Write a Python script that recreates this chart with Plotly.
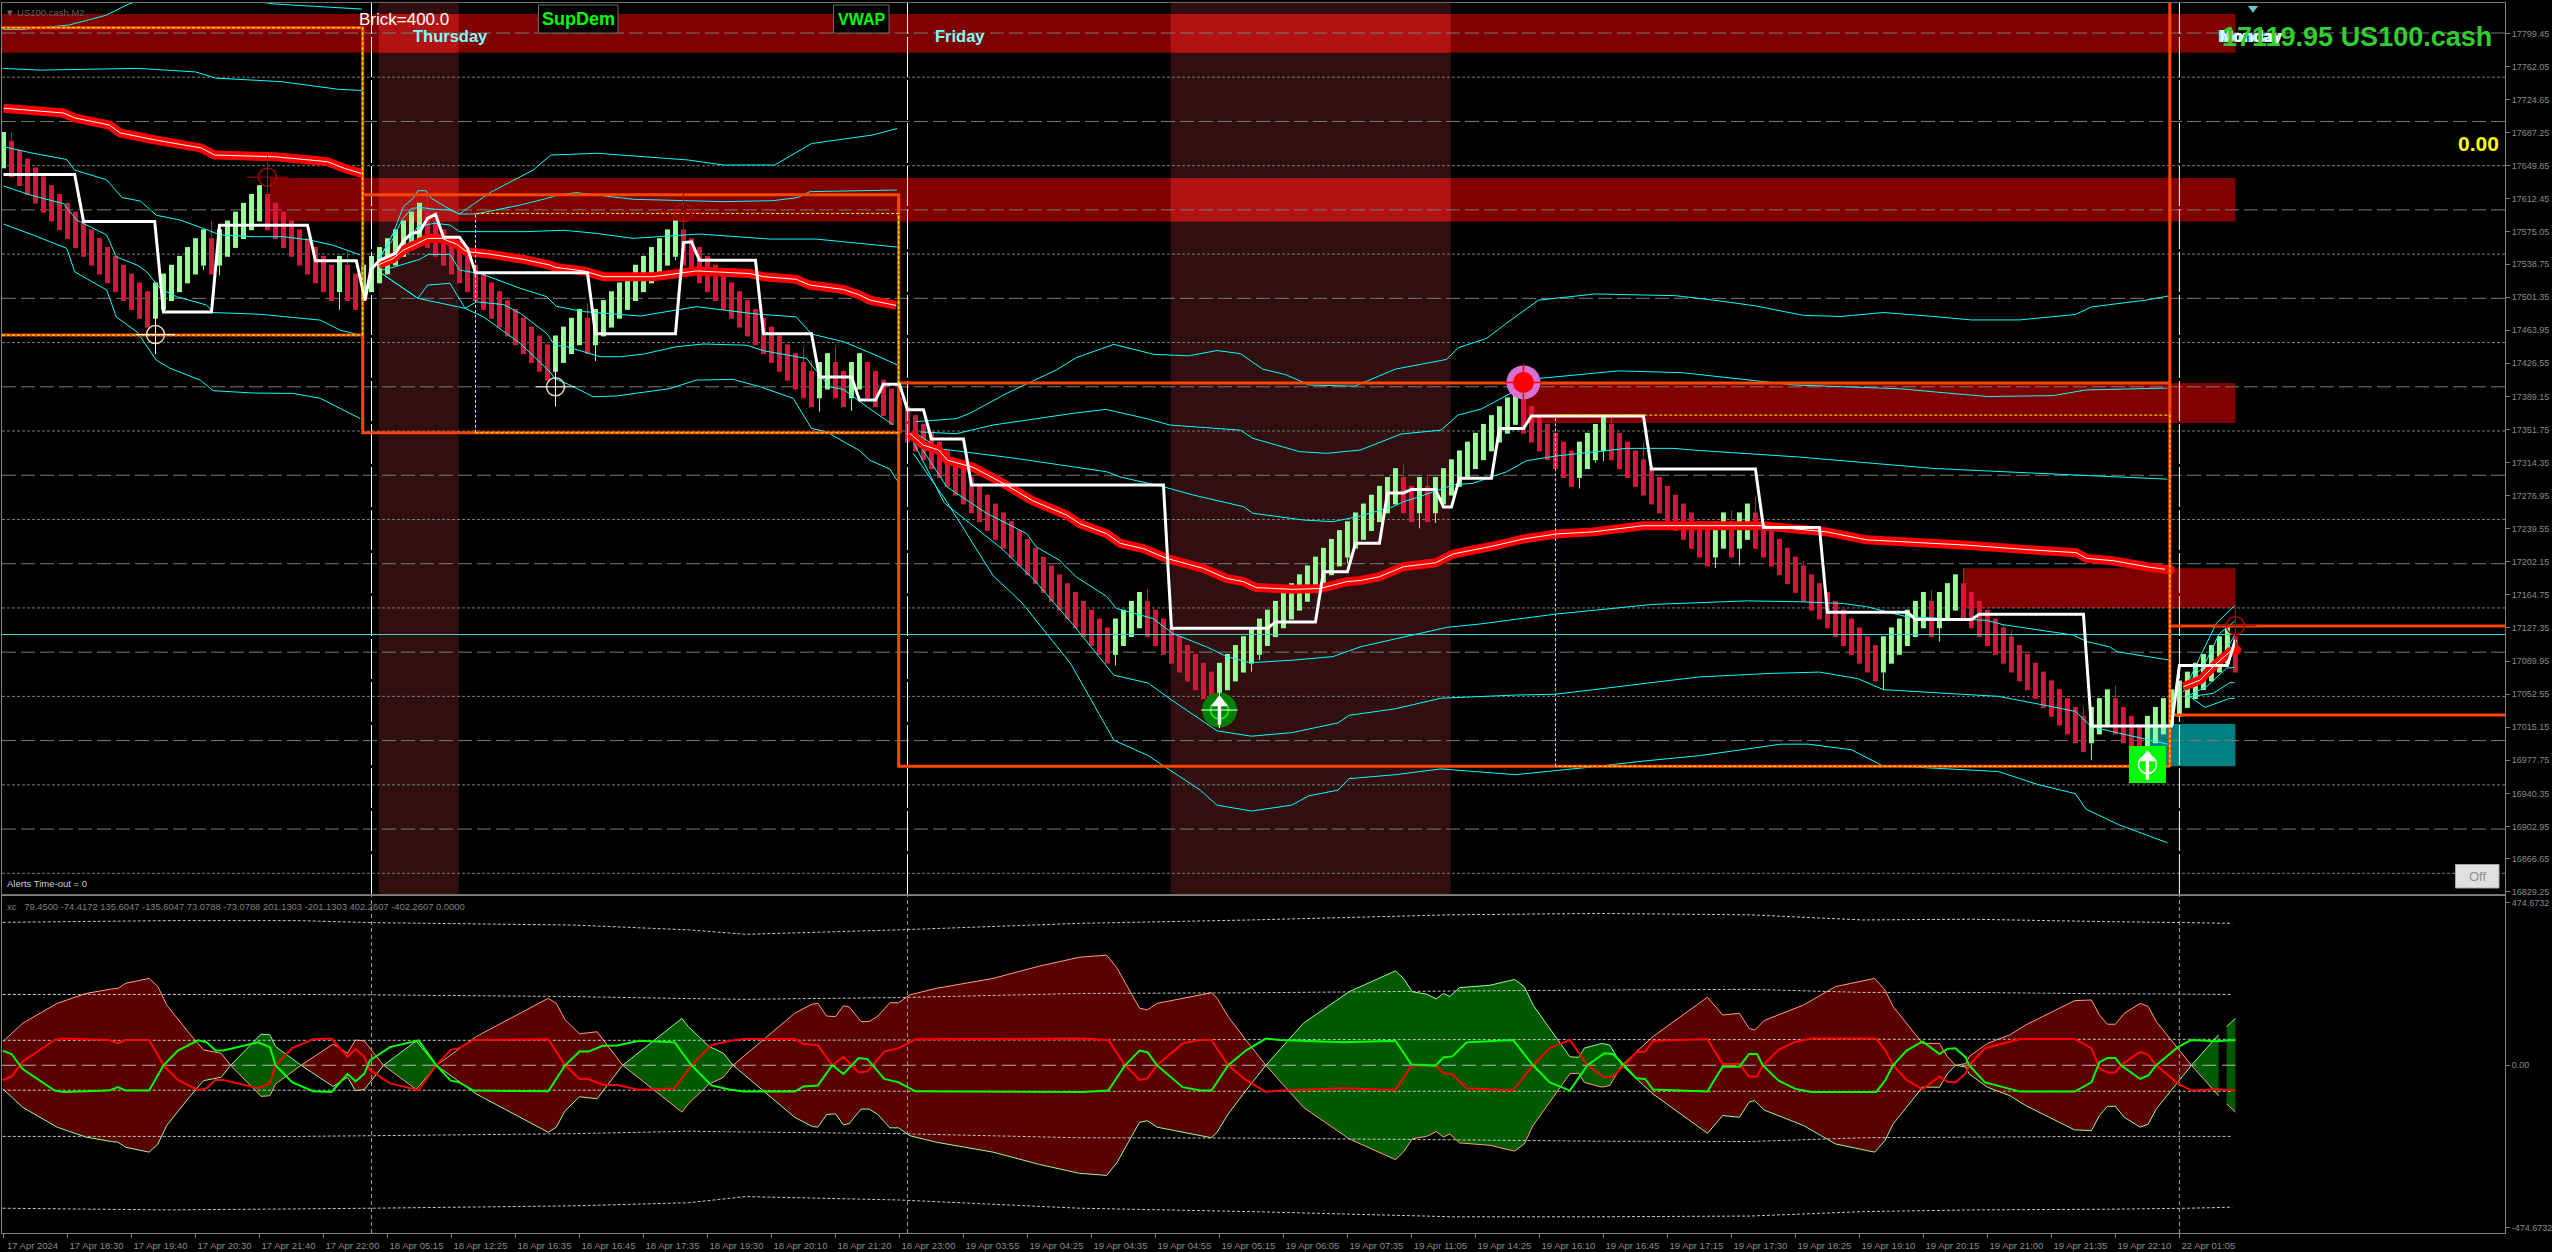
import plotly.graph_objects as go

W, H = 2552, 1252
FONT = "Liberation Sans, Arial"

# ---- price candles (brick chart) ----
bar_top = [
17688,17678,17668,17658,17648,17638,17628,17618,17608,17598,
17588,17578,17568,17558,17548,17538,17528,17518,17508,17518,
17528,17538,17548,17558,17568,17578,17568,17578,17588,17598,
17608,17618,17628,17618,17608,17598,17588,17578,17568,17558,
17548,17538,17548,17538,17528,17538,17548,17558,17568,17578,
17588,17598,17608,17598,17588,17578,17568,17558,17548,17538,
17528,17518,17508,17498,17488,17478,17468,17458,17448,17458,
17468,17478,17488,17478,17488,17498,17508,17518,17528,17538,
17548,17558,17568,17578,17588,17578,17568,17558,17548,17538,
17528,17518,17508,17498,17488,17478,17468,17458,17448,17438,
17428,17418,17428,17438,17428,17418,17428,17438,17428,17418,
17408,17398,17388,17378,17368,17358,17348,17338,17328,17318,
17308,17298,17288,17278,17268,17258,17248,17238,17228,17218,
17208,17198,17188,17178,17168,17158,17148,17138,17128,17138,
17148,17158,17168,17158,17148,17138,17128,17118,17108,17098,
17088,17078,17088,17098,17108,17118,17128,17138,17148,17158,
17168,17178,17188,17198,17208,17218,17228,17238,17248,17258,
17268,17278,17288,17298,17308,17298,17288,17298,17288,17298,
17308,17318,17328,17338,17348,17358,17368,17378,17388,17398,
17388,17378,17368,17358,17348,17338,17328,17338,17348,17358,
17368,17358,17348,17338,17328,17318,17308,17298,17288,17278,
17268,17258,17248,17238,17248,17258,17248,17258,17268,17258,
17248,17238,17228,17218,17208,17198,17188,17178,17168,17158,
17148,17138,17128,17118,17108,17118,17128,17138,17148,17158,
17168,17158,17168,17178,17188,17178,17168,17158,17148,17138,
17128,17118,17108,17098,17088,17078,17068,17058,17048,17038,
17028,17038,17048,17058,17048,17038,17028,17018,17028,17038,
17048,17058,17068,17078,17088,17098,17108,17118,17128,17118]
bar_dir = ("GRRRRRRRRR" "RRRRRRRRRG" "GGGGGGRGGG" "GGGRRRRRRR" "RRGRRGGGGG" "GGGRRRRRRR" "RRRRRRRRRG"
           "GGGRGGGGGG" "GGGGGRRRRR" "RRRRRRRRRR" "RRGGRRGGRR" "RRRRRRRRRR" "RRRRRRRRRR" "RRRRRRRRRG"
           "GGGRRRRRRR" "RRGGGGGGGG" "GGGGGGGGGG" "GGGGGRRGRG" "GGGGGGGGGG" "RRRRRRRGGG" "GRRRRRRRRR"
           "RRRRGGRGGR" "RRRRRRRRRR" "RRRRRGGGGG" "GRGGGRRRRR" "RRRRRRRRRR" "RGGGRRRRGG" "GGGGGGGGGR")
brick_height = 41
wick_hi_bar = [1,26,33,43,53,73,85,100,101,104,143,175,178,190,201,205,216,219,225,241,245,250,251,260,264,279]
wick_hi_val = [17688,17587,17651,17553,17615,17494,17615,17445,17430,17446,17171,17312,17299,17420,17368,17336,17260,17276,17203,17170,17195,17132,17125,17039,17062,17147]
wick_lo_bar = [19,25,27,42,69,74,84,102,106,139,156,157,168,177,179,197,199,200,214,217,235,242,261]
wick_lo_val = [17441,17532,17526,17487,17383,17429,17543,17372,17373,17085,17078,17091,17200,17240,17246,17285,17314,17316,17195,17198,17057,17112,16978]

# ---- white stepped line ----
white_bar = [0,8.9,10,18.9,20,26,27,38,39,44.1,45.2,45.9,47,49,50,51,52,53,54,55,57,58,59,73,74,84,85,86,87,94,95,101,102,106,107,109,110,112,113,115,116,120,121,145,146,158,159,164,165,168,169,172,173,175,176,179,180,181,182,186,187,190,191,205,206,219,220,227,228,238,239,246,247,260,261,271,272,278,279]
white_val = [17640,17640,17587,17587,17484.5,17484.5,17582.5,17582.5,17542.5,17542.5,17498,17532,17543,17551,17565,17573.5,17575,17590.5,17595,17569,17569,17556.5,17529,17529,17460,17460,17563,17564,17543,17543,17460,17460,17411,17411,17385,17385,17403,17403,17374,17374,17341,17341,17289,17289,17127,17127,17134,17134,17191,17191,17223,17223,17280,17280,17284,17284,17264,17264,17296.5,17296.5,17353,17353,17367,17367,17307,17307,17241,17241,17145,17145,17137,17137,17143,17143,17016.5,17016.5,17085,17085,17114]

# ---- thick red average, one piece per day ----
ma1_bar = [0,7.5,8.9,13.2,14.6,19,24.7,26.4,34,40.5,42.6,44.8]
ma1_val = [17715,17709.5,17704,17696,17687,17679,17670,17662,17660,17654.5,17647,17641]
ma2_bar = [46.9,48.7,50,51.6,53,54.8,56.6,57.9,60.8,65,68.3,69,72.5,75,81.2,85,86.6,93.3,95,99.1,100.8,105,107,108.3,111.6]
ma2_val = [17538,17545,17554.6,17561.4,17567.8,17567.8,17561.4,17552.8,17550,17544,17537.7,17535,17531,17524.5,17524.5,17529,17531,17528,17524.5,17521.5,17515,17510,17503.8,17498,17492]
ma3_bar = [113.3,115,116.9,118,121.2,124.6,128.7,132.9,134.6,137.9,139.6,142.5,145.4,150,152.9,155,156.6,161.2,164.6,167.9,169.6,172,175,179,181.2,186.2,190,194.1,198.7,205,219.6,227.9,232.9,245.4,253.7,259.1,260.4,263.7,268.3,270.8]
ma3_val = [17347.4,17334,17328.5,17317,17309,17292.7,17271,17255,17245,17234,17223,17217,17206,17194.7,17183.4,17179.7,17173,17171,17172,17179.7,17181,17185.3,17196.6,17201,17211,17220,17228,17233.6,17236,17243,17243,17236,17227,17221,17215.5,17212.5,17206,17203.4,17196,17193]
ma4_bar = [272.5,274.6,276.6,278.3,279.1]
ma4_val = [17061,17068.5,17087,17100.5,17102.4]

# ---- cyan bands ----
c1a_x = [-0.1,2.4,8.2,12.8,15.7,22,33.6,44.8]
c1a_y = [17804,17804,17809,17820,17833,17850,17833,17827]
c1b_x = [-0.1,4.6,16.8,24,26.5,34.7,41.9,44.8]
c1b_y = [17760,17758,17760,17756,17749,17745,17736.3,17735]
c1c_x = [0,3.7,7.9,8.9,12.9,14.8,17.1,19.1,22.1,25,27.1,31.2,35,38.3,41.2,44.6]
c1c_y = [17671.4,17664,17657,17645,17634,17614,17610,17594,17588.5,17579,17571.6,17569.7,17569.7,17566,17560,17549]
c1d_x = [0,3.3,7.5,9.15,12.9,14.1,16.7,17.9,19.6,21.6,25.4,26.2,32.1,39.6,42.1,44.6]
c1d_y = [17627,17617,17607,17588.5,17571.6,17547,17537.6,17530,17511,17502,17492.4,17484,17482,17475.4,17464,17458.5]
c1e_x = [0,3.7,7.9,8.9,12.9,14.1,16.7,19.1,20.8,24.6,26.2,31.2,36.2,39.6,44.6]
c1e_y = [17584,17571.6,17556.5,17530,17509.4,17479,17462,17430,17421,17407.6,17395.6,17393,17392.5,17387,17364]

c2a_x = [46.6,48.7,50,51.2,51.8,52.8,53.5,55.8,57,60.8,66.2,68.4,74.2,85.6,90,96.4,101,108.6,111.7]
c2a_y = [17537.7,17573.5,17604,17613,17621.7,17621.7,17613,17600.6,17595.4,17619.5,17645,17662,17664,17656.4,17650.7,17650.7,17675,17684.6,17692]
c2b_x = [46.6,47.3,48.5,49.8,51,52.3,54.1,55.8,57,59.1,64.6,67.9,69.3,71.6,78.7,90,96.2,99.3,100.8,111.7]
c2b_y = [17537.7,17550.9,17564,17588.6,17601.8,17602.5,17600.6,17600,17595.4,17595.4,17605.5,17613,17616.8,17619.5,17612,17609.3,17610.4,17614,17620.6,17622.5]
c2c_x = [47.5,48.7,50.4,51.8,53.9,55.8,57,60.8,65.4,70,74.1,78.7,87,95.8,101.6,108.3,111.7]
c2c_y = [17535.8,17545.2,17557.7,17581.8,17584.8,17582.9,17575.4,17575.4,17575.4,17577,17573.5,17567.8,17572.7,17567,17567,17561,17558]
c2d_x = [47.3,48.7,52,53.1,55.8,57,59.8,64.6,67.9,69.1,72.5,79.6,86.6,94.1,99.1,101,105,108.3,111.7]
c2d_y = [17532,17535,17544,17549.7,17549.7,17532,17527.5,17511.3,17501.9,17491,17485,17480,17490.6,17482.3,17479,17459.7,17451,17438.6,17425]
c2e_x = [47.3,51.8,53,55.8,57.7,59.1,62.5,64.6,67.9,68.9,70.4,74.6,77.1,80,84.1,87.5,92.9,95,100.4,101,103.3,105,108.3,111.2]
c2e_y = [17528,17500,17515,17517,17488.7,17496,17493,17483,17460.4,17447,17445.3,17434,17434,17437,17445.3,17448.4,17447,17440.8,17432,17424.6,17400,17397,17375,17357]
c2f_x = [47.3,51.8,57.7,60,64.6,68.3,68.9,70.8,73.7,76.6,83.3,86.6,91.2,94.6,98.7,101,102.9,105.4,107,108.3,110.8,111.7]
c2f_y = [17528,17500,17488.7,17479,17449,17417,17409.5,17402,17388.8,17389.6,17398,17407.6,17408.4,17400,17387,17353,17349,17336,17328,17317,17307,17294]

c3a_x = [114.1,119.1,120.8,125.4,131.6,134.1,138.8,143.8,148.1,151.7,154.6,157.4,160.3,163.2,168.9,174,180.4,181.8,185.4,187.9,191.9,199,209,213.8,218.9,225,229.7,235,240.6,246,252,259,261,267.8,270.8]
c3a_y = [17360.6,17364,17370,17392.6,17419,17433,17448,17436.7,17435,17441,17437.5,17420,17413.7,17402,17400.7,17420,17431,17444,17454.8,17472,17498,17505,17503,17498,17491.6,17480.8,17479.5,17484,17480,17475.6,17475.6,17481.7,17490.3,17498,17503]
c3b_x = [114.6,119.1,123.7,133.7,137.8,142.9,145.8,154.6,156.2,162,165.4,169.6,174.7,179.7,181.8,184.7,191.9,201.9,209.8,218.9,224,237.2,241.3,248,256.2,260.3,270.5]
c3b_y = [17349,17347,17356.8,17370,17374.5,17364,17356.8,17351,17341.7,17326.7,17324.8,17328.5,17346.6,17351,17368,17374.8,17409.4,17418,17416,17407,17402,17397.7,17394.3,17389,17390,17396.4,17398.6]
c3c_x = [114.1,117,126.6,137.9,139.6,145,148.7,155,156.2,162.5,166.2,169.6,173.7,175,177,181.2,183.7,187.9,190.4,194.1,202.9,208.7,212,224.3,241.3,259.6,270.5]
c3c_y = [17347.4,17330,17319,17304,17298,17287,17277.7,17264.5,17257,17249.4,17247.5,17254,17264.5,17270,17275.8,17289,17291,17304,17316.5,17321.8,17330.4,17330.4,17328,17320.7,17307.7,17300,17295.6]
c3d_x = [114.1,117.9,122.9,127.9,129.1,132,134.1,137.9,139.1,143.7,146.2,150.4,152.9,155.8,161.2,166.2,169.6,174,180.4,184.7,194,206.2,218,224.6,230,232.9,237.9,247.9,250,258.7,260.4,263.3,264.2,270.8]
c3d_y = [17340,17287,17257,17234,17219,17204,17185,17163,17149.5,17138,17121,17106,17095,17088,17091,17095,17106,17115,17128,17132,17143,17154,17158,17157,17155,17151.4,17140,17136,17131,17119.4,17112,17106,17100.5,17091]
c3e_x = [113.7,117.6,124.8,128.8,133.8,138.8,143.1,146,151.7,156,161,166.8,168.2,174,179.7,189,194,205.5,212,221,227,231.8,235,249.4,255.5,259,261,270.5]
c3e_y = [17338,17268.8,17217,17182,17130,17074,17065,17046,17011,17005,17009,17020,17028.6,17036,17048,17051.5,17052.4,17065,17072,17076,17077.5,17070,17057.6,17050,17039.4,17033,17015.6,16996]
c3f_x = [113.7,118,123.7,127.3,133.4,138.8,143.1,149.6,151.7,156,161,163.2,166.8,168.2,174,179.7,189,198.3,204.8,212,222.2,225.6,231,234.8,249.4,254.2,259,260.3,264.4,270.5]
c3f_y = [17325,17268.8,17186.5,17156,17087,17000.5,16983,16944,16927,16920.4,16927,16937.7,16944,16957,16961.5,16968,16961.5,16970,16976.7,16983,16996,16996,16989.7,16972,16965,16950.7,16940,16922.6,16905,16884.5]

c4a_x = [272.5,274.6,276.6,278.9]
c4a_y = [17055,17095,17132.6,17152.6]
c4b_x = [272.5,275,277,278.9]
c4b_y = [17060,17083.6,17121,17135]
c4c_x = [272.5,275,277,278.9]
c4c_y = [17059,17070.4,17090,17119]
c4d_x = [272.9,275.5,277.9,278.9]
c4d_y = [17049.7,17062,17082,17082.8]
c4e_x = [273.3,276.2,278.3,278.9]
c4e_y = [17049.7,17053.4,17065.5,17065.5]
c4f_x = [273.3,275.2,278.3,278.9]
c4f_y = [17049.7,17037.6,17047.8,17047.8]

# ---- zones and sessions ----
zone_x0 = [-0.19,33.3,190,245]
zone_x1 = [279,279,279,279]
zone_hi = [17821.5,17636,17404.3,17195]
zone_lo = [17777.7,17587,17359,17150]
teal_x = [268,279]
teal_y = [16971,17018.7]
session_x0 = [46.9,145.9]
session_x1 = [56.9,180.9]
grid_long = [17800,17700,17600,17500,17400,17300,17200,17100,17000,16900]
grid_dot = [17750,17650,17550,17450,17350,17250,17150,17050,16950,16850]
day_bars = [46,113,272]
current_price = 17119.95

# ---- orange boxes and yellow dotted levels ----
orange_x = [-0.19,44.9,44.9,111.9,None,-0.19,44.9,None,44.9,111.9,111.9,270.8,None,111.9,270.8,None,270.8,270.8,None,270.8,312.7,None,270.8,312.7]
orange_y = [17806,17806,17348,17348,None,17458.5,17458.5,None,17617,17617,16971,16971,None,17404.3,17404.3,None,17834,16971,None,17129.6,17129.6,None,17029,17029]
yellow_x = [-0.19,44.9,44.9,None,-0.19,44.9,None,59,59,111.9,111.9,None,59,111.9,None,194,194,270.8,270.8,194]
yellow_y = [17806,17806,17458,None,17458.5,17458.5,None,17348,17596,17596,17400,None,17348,17348,None,16971,17368,17368,16971,16971]

# ---- signal marks ----
ring_bars = [19,69]
ring_vals = [17459,17400]
red_ring_bars = [33,85,279]
red_ring_vals = [17637,17597,17130]
buy_arrow_bars = [152,268]
buy_head_vals = [17043,16981]
buy_tail_vals = [17018,16956]

# ---- axes ----
y_tick_vals = [17799.45,17762.05,17724.65,17687.25,17649.85,17612.45,17575.05,17538.75,17501.35,17463.95,17426.55,17389.15,17351.75,17314.35,17276.95,17239.55,17202.15,17164.75,17127.35,17089.95,17052.55,17015.15,16977.75,16940.35,16902.95,16866.65,16829.25]
x_labels = ["17 Apr 2024","17 Apr 18:30","17 Apr 19:40","17 Apr 20:30","17 Apr 21:40","17 Apr 22:00","18 Apr 05:15","18 Apr 12:25","18 Apr 16:35","18 Apr 16:45","18 Apr 17:35","18 Apr 19:30","18 Apr 20:10","18 Apr 21:20","18 Apr 23:00","19 Apr 03:55","19 Apr 04:25","19 Apr 04:35","19 Apr 04:55","19 Apr 05:15","19 Apr 06:05","19 Apr 07:35","19 Apr 11:05","19 Apr 14:25","19 Apr 16:10","19 Apr 16:45","19 Apr 17:15","19 Apr 17:30","19 Apr 18:25","19 Apr 19:10","19 Apr 20:15","19 Apr 21:00","19 Apr 21:35","19 Apr 22:10","22 Apr 01:05"]
x_label_bars = [0,8,16,24,32,40,48,56,64,72,80,88,96,104,112,120,128,136,144,152,160,168,176,184,192,200,208,216,224,232,240,248,256,264,272]

# ---- oscillator ----
env_bars = [
 [-0.1,2.4,6.7,10.3,13.5,14.3,15.3,18.2,19.3,20.4,23.2,25,27.2,28.4],
 [28.4,32.2,33.3,34,37.2],
 [37.2,41.2,43,44,45.1,47.5],
 [47.5,51.6,54.1],
 [54.1,59.1,68.1,69.1,70.2,72,74.2,77.4],
 [77.4,84.8,85.6,88.2,90,91.2],
 [91.2,98.9,101.1,101.8,102.9,104,105,105.7,107.2,108.2,109.3,110.8,111.9,113.3,116.6,123.7,129.5,134.5,137.9,139.2,142,143,144.2,151,151.7,153.1,155.3,157.8],
 [157.8,162.5,168.2,174,175,176.1,177.9,179.1,180,180.8,182,185.8,188.9,190.1,191.2,195.8,196.9,197.6,199.8,200.8,202.3],
 [202.3,206.2,213,214.9,217,218.2,218.9,220.1,225,229,233.9,235.2,236.2,239.9,242,243,244],
 [244,245.3,245.7,248,250.8,252.8,258.9,261,262,263,264,265.1,267.1,268.1,269.1,273.5],
 [273.5,276.9],
 [277.9,279]]
env_amps = [
 [69,123,181,210,223,225,240,254,230,176,94,45,35,0],
 [0,91,89,55,0],
 [0,62,35,74,71,0],
 [0,71,0],
 [0,84,196,181,133,92,98,0],
 [0,137,113,55,35,0],
 [0,152,179,181,144,142,174,171,128,128,144,183,183,206,225,254,290,316,322,284,167,162,181,212,196,142,74,0],
 [0,123,215,276,254,215,208,194,210,201,227,234,251,230,176,25,23,50,64,59,0],
 [0,84,199,147,152,108,103,131,176,230,254,220,172,64,64,25,0],
 [0,5,25,64,89,118,189,191,147,120,120,152,181,172,128,0],
 [0,89],
 [113,137]]
env_kind = ["r","g","r","g","r","g","r","g","r","r","g","g"]

osc_bar = [-0.1,1,2.4,6.4,7.5,13.2,14.3,15.3,18.2,20,21.8,24.3,25.4,26.5,27.5,31.8,33.3,34,36.1,38.7,41,43,44,45.1,45.8,48.3,51.9,54.1,55.9,57,58.7,68.1,70.2,72,73.1,74.9,76.7,79.5,83.9,86,88.5,90.7,92.5,98.9,100,101.8,103.6,105,106.9,108,110.1,111.9,114,134.9,138.1,140.2,142,143,144.2,147.4,149.6,151,153.1,155.3,157.8,159.6,167.5,174,176,179,180,181.1,182.9,188.7,191.2,193.3,195.8,198,200.1,201.2,202.6,204.1,205.2,206.2,213,213.8,214.9,217,218.2,219.2,219.9,221.9,224,226,234.1,235.2,236.2,237.9,239.9,242,243,244,245.3,245.7,247.7,252.1,258.9,261,262,263,264,264.7,267.1,268.1,269.1,271.8,273.5,276.6,279]
osc_red = [-43,-33,11,74,78,74,64,74,74,0,-43,-73,-67,-43,-43,-67,-53,0,50,76,78,25,47,25,-14,-53,-73,0,45,50,74,76,0,-40,-40,-57,-58,-72,-67,0,59,71,77,77,62,59,0,25,-21,-18,40,50,76,78,74,0,-43,-38,0,64,74,74,0,-43,-78,-74,-67,-72,-2,1,-23,-26,-67,-74,0,50,74,0,-35,-33,0,38,40,71,77,45,4,4,-33,-33,0,45,69,78,78,45,0,-43,-70,-33,-48,-50,-23,0,50,77,77,50,-9,-21,-21,0,40,30,0,-53,-74,-70,-74]
osc_green = [43,33,-11,-74,-78,-74,-64,-74,-74,0,43,73,67,43,43,67,53,0,-50,-76,-78,-25,-47,-25,14,53,73,0,-45,-50,-74,-76,0,40,40,57,58,72,67,0,-59,-71,-77,-77,-62,-59,0,-25,21,18,-40,-50,-76,-78,-74,0,43,38,0,-64,-74,-74,0,43,78,74,67,72,2,-1,23,26,67,74,0,-50,-74,0,35,33,0,-38,-40,-71,-77,-45,-4,-4,33,33,0,-45,-69,-78,-78,-45,0,43,70,33,48,50,23,0,-50,-77,-77,-50,9,21,21,0,-40,-30,0,53,74,70,74]

level_bar = [-0.1,20.4,36.9,46.2,71.3,85.6,92.8,112,134.5,156,181.1,199,218.3,232.4,246,263,273.2,278.6]
level3_hi = [418,423,423,417,410,396,383,396,415,425,440,444,440,425,427,420,417,415]
level3_lo = [-418,-423,-420,-418,-411,-402,-384,-394,-418,-428,-443,-443,-441,-428,-423,-421,-418,-415]
level2_hi = [207,207,207,206,201,195,193,198,210,212,217,220,222,213,213,209,208,207]
level2_lo = [-208,-208,-208,-206,-200,-193,-195,-200,-212,-213,-218,-222,-223,-212,-210,-208,-208,-208]
level1_hi = [73,73,73,73,73,73,73,74,74,75,75,75,75,76,76,76,76,76]
level1_lo = [-73,-73,-73,-73,-73,-73,-73,-76,-76,-76,-76,-76,-76,-76,-76,-76,-76,-76]


def px(x):
    return x / W


def py(y):
    return 1 - y / H


fig = go.Figure()
shapes = []


def rect(x0, x1, y0, y1, color):
    shapes.append(dict(type="rect", xref="x", yref="y", x0=x0, x1=x1, y0=y0, y1=y1,
                       fillcolor=color, line=dict(width=0), layer="below"))


def line(x, y, color, width=1, dash=None, axis=1):
    fig.add_trace(go.Scatter(x=x, y=y, mode="lines", line=dict(color=color, width=width, dash=dash, simplify=False),
                             xaxis="x" if axis == 1 else "x2", yaxis="y" if axis == 1 else "y2",
                             hoverinfo="skip", connectgaps=False))


def mark(x, y, symbol, size, color, width=0, lc=None):
    fig.add_trace(go.Scatter(x=x, y=y, mode="markers", hoverinfo="skip",
                             marker=dict(symbol=symbol, size=size, color=color,
                                         line=dict(width=width, color=lc or color))))


# background layers
for a, b in zip(session_x0, session_x1):
    rect(a, b, 16826.6, 17833.9, "#310e0f")
for a, b, hi, lo in zip(zone_x0, zone_x1, zone_hi, zone_lo):
    rect(a, b, lo, hi, "#800000")
    for s0, s1 in zip(session_x0, session_x1):
        left, right = max(a, s0), min(b, s1)
        if left < right:
            rect(left, right, lo, hi, "#B11212")
rect(teal_x[0], teal_x[1], teal_y[0], teal_y[1], "#008080")
for v in grid_long:
    shapes.append(dict(type="line", xref="x", yref="y", x0=-0.19, x1=312.7, y0=v, y1=v, layer="below",
                       line=dict(color="#7a7a7a", width=1, dash="14px,5px")))
for v in grid_dot:
    shapes.append(dict(type="line", xref="x", yref="y", x0=-0.19, x1=312.7, y0=v, y1=v, layer="below",
                       line=dict(color="#7a7a7a", width=1, dash="3px,2px")))

# candles
up_idx = [i for i, d in enumerate(bar_dir) if d == "G"]
dn_idx = [i for i, d in enumerate(bar_dir) if d == "R"]
wrx, wry = [], []
for b, v in zip(wick_hi_bar, wick_hi_val):
    wrx += [b, b, None]
    wry += [bar_top[b], v, None]
wgx, wgy = [], []
for b, v in zip(wick_lo_bar, wick_lo_val):
    wgx += [b, b, None]
    wgy += [bar_top[b] - brick_height, v, None]
line(wrx, wry, "#DC143C", 1)
line(wgx, wgy, "#98FB98", 1)
fig.add_trace(go.Bar(x=up_idx, y=[brick_height] * len(up_idx), base=[bar_top[i] - brick_height for i in up_idx],
                     width=0.62, marker=dict(color="#98FB98", line=dict(width=0)), hoverinfo="skip"))
fig.add_trace(go.Bar(x=dn_idx, y=[brick_height] * len(dn_idx), base=[bar_top[i] - brick_height for i in dn_idx],
                     width=0.62, marker=dict(color="#DC143C", line=dict(width=0)), hoverinfo="skip"))

# current price, day separators
line([-0.19, 312.7], [current_price, current_price], "#3fd6d6", 1)
for d in day_bars:
    line([d, d], [16826.6, 17833.9], "#ffffff", 1, "40px,3px")

# bands
for cx, cy in [(c1a_x, c1a_y), (c1b_x, c1b_y), (c1c_x, c1c_y), (c1d_x, c1d_y), (c1e_x, c1e_y),
               (c2a_x, c2a_y), (c2b_x, c2b_y), (c2c_x, c2c_y), (c2d_x, c2d_y), (c2e_x, c2e_y), (c2f_x, c2f_y),
               (c3a_x, c3a_y), (c3b_x, c3b_y), (c3c_x, c3c_y), (c3d_x, c3d_y), (c3e_x, c3e_y), (c3f_x, c3f_y),
               (c4a_x, c4a_y), (c4b_x, c4b_y), (c4c_x, c4c_y), (c4d_x, c4d_y), (c4e_x, c4e_y), (c4f_x, c4f_y)]:
    line(cx, cy, "#00FFFF", 1)

# average
for mx, my in [(ma1_bar, ma1_val), (ma2_bar, ma2_val), (ma3_bar, ma3_val), (ma4_bar, ma4_val)]:
    line(mx, my, "#FF0000", 9)
    line(mx, my, "#FFFFFF", 1)
mark([ma3_bar[-1], ma4_bar[-1]], [ma3_val[-1], ma4_val[-1]], "circle", 10, "#FF0000")

# boxes
line(orange_x, orange_y, "#FF4500", 3)
line(white_bar, white_val, "#FFFFFF", 3)
line(yellow_x, yellow_y, "#FFFF00", 1, "3px,2px")

# signal marks
mark(ring_bars, ring_vals, "circle-open", 18, "#E8D8B0", 1.5)
mark(ring_bars, ring_vals, "cross-thin-open", 28, "#FFFFFF", 1)
mark(red_ring_bars, red_ring_vals, "circle-open", 18, "#B00000", 1.5)
mark(red_ring_bars, red_ring_vals, "cross-thin-open", 30, "#B00000", 1)
mark([152], [17034.6], "circle", 35, "#008000")
mark([152], [17034.6], "circle-open", 18, "#00FF00", 1.5)
mark([190], [17405], "circle", 34, "#DA70D6")
mark([190], [17405], "circle", 21, "#FF0000")
mark([190], [17405], "cross-thin-open", 26, "#FF0000", 1.5)
mark([268], [16973], "square", 37, "#00FF00")
mark([268], [16973], "circle-open", 18, "#FFFFFF", 1.5)
mark(buy_arrow_bars, buy_head_vals, "triangle-up", 15, "#FFFFFF")
for b, h, t in zip(buy_arrow_bars, buy_head_vals, buy_tail_vals):
    line([b, b], [h, t], "#FFFFFF", 3.5)
mark([152], [17034.6], "cross-thin-open", 26, "#FFFFFF", 1)
mark([281.2], [17828], "triangle-down", 9, "#5cc8d0")

# oscillator fills
fill_col = {"r": "#5A0000", "g": "#005A00"}
up_col = {"r": "#FFA07A", "g": "#98FB98"}
dn_col = {"r": "#98FB98", "g": "#FFA07A"}
for bx, am, k in zip(env_bars, env_amps, env_kind):
    fig.add_trace(go.Scatter(x=bx + bx[::-1], y=am + [-v for v in am[::-1]], mode="lines", fill="toself",
                             fillcolor=fill_col[k], line=dict(width=0), xaxis="x2", yaxis="y2", hoverinfo="skip"))
    line(bx, am, up_col[k], 1, axis=2)
    line(bx, [-v for v in am], dn_col[k], 1, axis=2)
for lv in (level3_hi, level3_lo, level2_hi, level2_lo, level1_hi, level1_lo):
    line(level_bar, lv, "#C8C8C8", 1, "3px,2px", axis=2)
line([-0.19, 279], [0, 0], "#B4B4B4", 1.2, "14px,6px", axis=2)
for d in day_bars:
    line([d, d], [-490.5, 495], "#9a9a9a", 1, "4px,3px", axis=2)
line(osc_bar, osc_red, "#FF0000", 2, axis=2)
line(osc_bar, osc_green, "#00FF00", 2, axis=2)


def note(x, y, text, size, color, anchor="left", bold=False, family=FONT):
    fig.add_annotation(xref="paper", yref="paper", x=px(x), y=py(y), text=f"<b>{text}</b>" if bold else text,
                       showarrow=False, xanchor=anchor, yanchor="middle",
                       font=dict(size=size, color=color, family=family), borderpad=0, borderwidth=0)


# buttons
for x0, x1, y0, y1, fc, lc in [(538.5, 618, 5, 33, "#000000", "#6a6a6a"), (833.5, 889, 5, 33, "#000000", "#6a6a6a"),
                               (2455.5, 2499, 864.5, 888, "#E0E0E0", "#A8A8A8")]:
    shapes.append(dict(type="rect", xref="paper", yref="paper", x0=px(x0), x1=px(x1), y0=py(y1), y1=py(y0),
                       fillcolor=fc, line=dict(color=lc, width=1), layer="above"))

note(359, 20, "Brick=400.0", 17, "#FFFFFF")
note(413, 36, "Thursday", 16.5, "#7FFFFF", bold=True)
note(935, 36, "Friday", 16.5, "#7FFFFF", bold=True)
note(2218, 36, "Monday", 16.5, "#7FFFFF", bold=True)
note(2220, 36, "Monday", 16.5, "#FFFFFF", bold=True)
note(578.5, 19, "SupDem", 18, "#00FF00", "center", True)
note(861, 19, "VWAP", 16, "#00FF00", "center", True)
note(2222, 37, "17119.95 US100.cash", 27, "#32CD32", bold=True)
note(2499, 144, "0.00", 21, "#FFFF00", "right", True)
note(5, 12, "▼ US100.cash,M2", 9.5, "#666666")
note(7, 883, "Alerts Time-out = 0", 9.5, "#D0D0D0")
note(7, 906, "xc   79.4500 -74.4172 135.6047 -135.6047 73.0788 -73.0788 201.1303 -201.1303 402.2607 -402.2607 0.0000", 9.4, "#808080")
note(2477, 876, "Off", 13, "#909090", "center")

y_font = dict(size=9, color="#8a8a8a", family=FONT)
x_font = dict(size=9.5, color="#8a8a8a", family=FONT)
fig.update_layout(
    width=W, height=H, autosize=False, margin=dict(l=0, r=0, t=0, b=0, autoexpand=False), showlegend=False,
    paper_bgcolor="#000000", plot_bgcolor="#000000", barmode="overlay", hovermode=False, dragmode=False,
    shapes=shapes,
    xaxis=dict(domain=[px(2), px(2505)], range=[-0.19, 312.7], showgrid=False, zeroline=False,
               showticklabels=False, ticks="", showline=True, linecolor="#707070", mirror=True, anchor="y",
               automargin=False),
    yaxis=dict(domain=[py(894), py(3)], range=[16826.6, 17833.9], side="right", showgrid=False, zeroline=False,
               tickmode="array", tickvals=y_tick_vals, ticktext=[f"{v:.2f}" for v in y_tick_vals],
               ticks="outside", ticklen=4, tickcolor="#808080", tickfont=y_font, automargin=False,
               showline=True, linecolor="#808080", mirror=True, anchor="x"),
    xaxis2=dict(domain=[px(2), px(2505)], range=[-0.19, 312.7], showgrid=False, zeroline=False,
                tickmode="array", tickvals=x_label_bars, ticktext=x_labels, tickangle=0,
                ticks="outside", ticklen=4, tickcolor="#808080", tickfont=x_font, ticklabelshift=29,
                automargin=False, showline=True, linecolor="#808080", mirror=True, anchor="y2"),
    yaxis2=dict(domain=[py(1233), py(896)], range=[-490.5, 495], side="right", showgrid=False, zeroline=False,
                tickmode="array", tickvals=[474.6732, 0, -474.6732], ticktext=["474.6732", "0.00", "-474.6732"],
                ticks="outside", ticklen=4, tickcolor="#808080", tickfont=y_font, automargin=False,
                showline=True, linecolor="#808080", mirror=True, anchor="x2"),
)

fig.write_html("out.html", config={"displayModeBar": False, "staticPlot": True},
               post_script="document.body.style.margin='0';document.body.style.overflow='hidden';document.documentElement.style.background='#000';")
